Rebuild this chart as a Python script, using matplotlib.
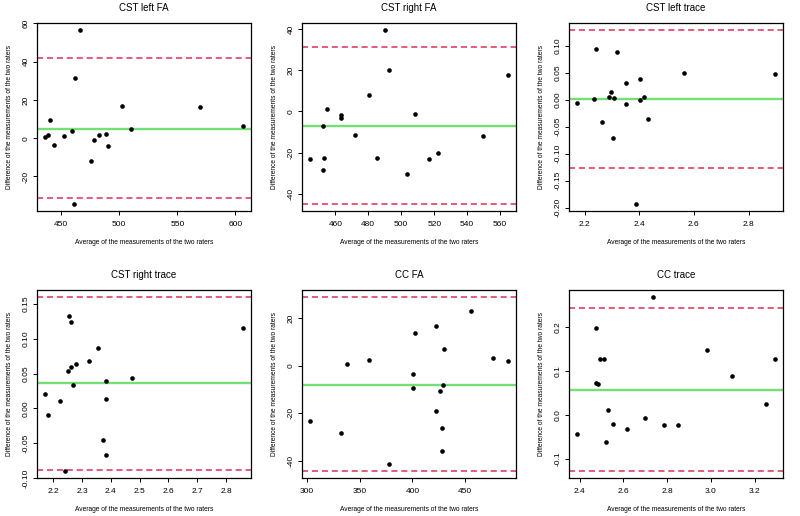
import numpy as np
import matplotlib
matplotlib.use("Agg")
from matplotlib import pyplot as plt

plt.rcParams["font.family"] = ["Liberation Sans", "DejaVu Sans"]

TITLES = ["CST left FA", "CST right FA", "CST left trace",
          "CST right trace", "CC FA", "CC trace"]

# Bland-Altman data: averages (x) and differences (y) per panel
cst_left_fa_avg = [466.6, 462.3, 436.0, 438.6, 440.6, 444.0, 452.3, 459.1, 461.4,
                   475.7, 478.0, 482.9, 488.3, 490.3, 502.6, 510.0, 569.4, 606.6]
cst_left_fa_diff = [56.5, 31.5, 0.7, 1.9, 9.4, -3.7, 1.0, 3.8, -34.4,
                    -12.0, -1.2, 1.9, 2.4, -4.3, 16.7, 4.7, 16.3, 6.4]

cst_right_fa_avg = [490.3, 492.5, 480.4, 455.2, 463.6, 463.6, 508.5, 452.7, 472.1,
                    453.1, 444.6, 485.5, 452.7, 503.6, 517.0, 522.4, 549.3, 564.8]
cst_right_fa_diff = [39.7, 20.4, 7.9, 1.1, -1.5, -3.2, -1.1, -7.1, -11.3,
                     -22.5, -23.4, -22.9, -28.6, -30.7, -23.4, -20.4, -11.8, 17.8]

cst_left_tr_avg = [2.172, 2.234, 2.240, 2.262, 2.289, 2.295, 2.305, 2.308, 2.318,
                   2.350, 2.350, 2.387, 2.402, 2.402, 2.419, 2.431, 2.564, 2.897]
cst_left_tr_diff = [-0.007, 0.002, 0.094, -0.041, 0.005, 0.015, -0.071, 0.003, 0.089,
                    0.031, -0.008, -0.193, 0.038, 0.000, 0.005, -0.036, 0.049, 0.047]

cst_right_tr_avg = [2.253, 2.260, 2.357, 2.324, 2.279, 2.260, 2.250, 2.472, 2.383,
                    2.269, 2.171, 2.223, 2.383, 2.180, 2.373, 2.383, 2.242, 2.859]
cst_right_tr_diff = [0.132, 0.124, 0.087, 0.068, 0.064, 0.060, 0.054, 0.044, 0.039,
                     0.033, 0.020, 0.011, 0.013, -0.009, -0.045, -0.067, -0.090, 0.116]

cc_fa_avg = [303.1, 332.6, 338.6, 358.7, 377.8, 401.0, 401.0, 402.6, 422.7,
             422.7, 426.1, 428.6, 428.0, 428.0, 430.2, 455.3, 476.0, 490.5]
cc_fa_diff = [-23.4, -28.2, 0.8, 2.4, -41.6, -3.6, -9.5, 13.9, 16.8,
              -18.9, -10.7, -8.1, -26.4, -36.0, 7.2, 22.9, 3.1, 2.0]

cc_tr_avg = [2.388, 2.476, 2.476, 2.483, 2.493, 2.512, 2.528, 2.521, 2.552,
             2.616, 2.698, 2.734, 2.786, 2.851, 2.980, 3.097, 3.250, 3.293]
cc_tr_diff = [-0.044, 0.197, 0.072, 0.070, 0.128, 0.128, 0.011, -0.063, -0.020,
              -0.033, -0.007, 0.268, -0.023, -0.023, 0.148, 0.088, 0.024, 0.127]

# mean difference and limits of agreement
MEAN_DIFF = [5.0, -7.1, 0.001, 0.036, -8.0, 0.057]
UPPER_LOA = [42.1, 31.2, 0.129, 0.160, 29.0, 0.243]
LOWER_LOA = [-31.5, -45.1, -0.127, -0.089, -44.4, -0.128]

X_TICKS = [[450, 500, 550, 600], [460, 480, 500, 520, 540, 560],
           [2.2, 2.4, 2.6, 2.8], [2.2, 2.3, 2.4, 2.5, 2.6, 2.7, 2.8],
           [300, 350, 400, 450], [2.4, 2.6, 2.8, 3.0, 3.2]]
Y_TICKS = [[-20, 0, 20, 40, 60], [-40, -20, 0, 20, 40],
           [-0.20, -0.15, -0.10, -0.05, 0.00, 0.05, 0.10],
           [-0.10, -0.05, 0.00, 0.05, 0.10, 0.15],
           [-40, -20, 0, 20], [-0.1, 0.0, 0.1, 0.2]]
Y_FMT = ["{:.0f}", "{:.0f}", "{:.2f}", "{:.2f}", "{:.0f}", "{:.1f}"]
X_FMT = ["{:.0f}", "{:.0f}", "{:.1f}", "{:.1f}", "{:.0f}", "{:.1f}"]

AVGS = [cst_left_fa_avg, cst_right_fa_avg, cst_left_tr_avg,
        cst_right_tr_avg, cc_fa_avg, cc_tr_avg]
DIFFS = [cst_left_fa_diff, cst_right_fa_diff, cst_left_tr_diff,
         cst_right_tr_diff, cc_fa_diff, cc_tr_diff]

W, H = 800, 516
fig = plt.figure(figsize=(W / 100, H / 100), dpi=100)

lefts = [37, 302, 569]
tops = [23, 290]
aw, ah = 214, 188

for k in range(6):
    r, c = divmod(k, 3)
    ax = fig.add_axes([lefts[c] / W, 1 - (tops[r] + ah) / H, aw / W, ah / H])
    x = np.array(AVGS[k])
    y = np.array(DIFFS[k])
    ax.scatter(x, y, s=11, color="black", zorder=3, linewidths=0)
    ax.axhline(MEAN_DIFF[k], color="#72e072", lw=1.7, zorder=2)
    for v in (UPPER_LOA[k], LOWER_LOA[k]):
        ax.axhline(v, color="#dc2f55", lw=1.1, ls=(0, (4, 2.5)), zorder=2)

    # R-style 4% padding around data and agreement limits
    xlo, xhi = x.min(), x.max()
    ylo = min(y.min(), LOWER_LOA[k])
    yhi = max(y.max(), UPPER_LOA[k])
    dx, dy = (xhi - xlo) * 0.04, (yhi - ylo) * 0.04
    ax.set_xlim(xlo - dx, xhi + dx)
    ax.set_ylim(ylo - dy, yhi + dy)

    ax.set_xticks(X_TICKS[k])
    ax.set_xticklabels([X_FMT[k].format(t) for t in X_TICKS[k]], fontsize=6)
    ax.set_yticks(Y_TICKS[k])
    ax.set_yticklabels([Y_FMT[k].format(t) for t in Y_TICKS[k]], fontsize=6,
                       rotation=90, va="center")
    ax.tick_params(direction="out", length=3, width=0.7)
    ax.tick_params(axis="x", pad=4)
    ax.tick_params(axis="y", pad=2)
    for sp in ax.spines.values():
        sp.set_linewidth(0.9)

    ax.set_title(TITLES[k], fontsize=7, pad=9)
    ax.set_xlabel("Average of the measurements of the two raters",
                  fontsize=4.8, labelpad=8)
    ax.set_ylabel("Difference of the measurements of the two raters",
                  fontsize=4.8, labelpad=7)

fig.savefig("out.png", dpi=100)
